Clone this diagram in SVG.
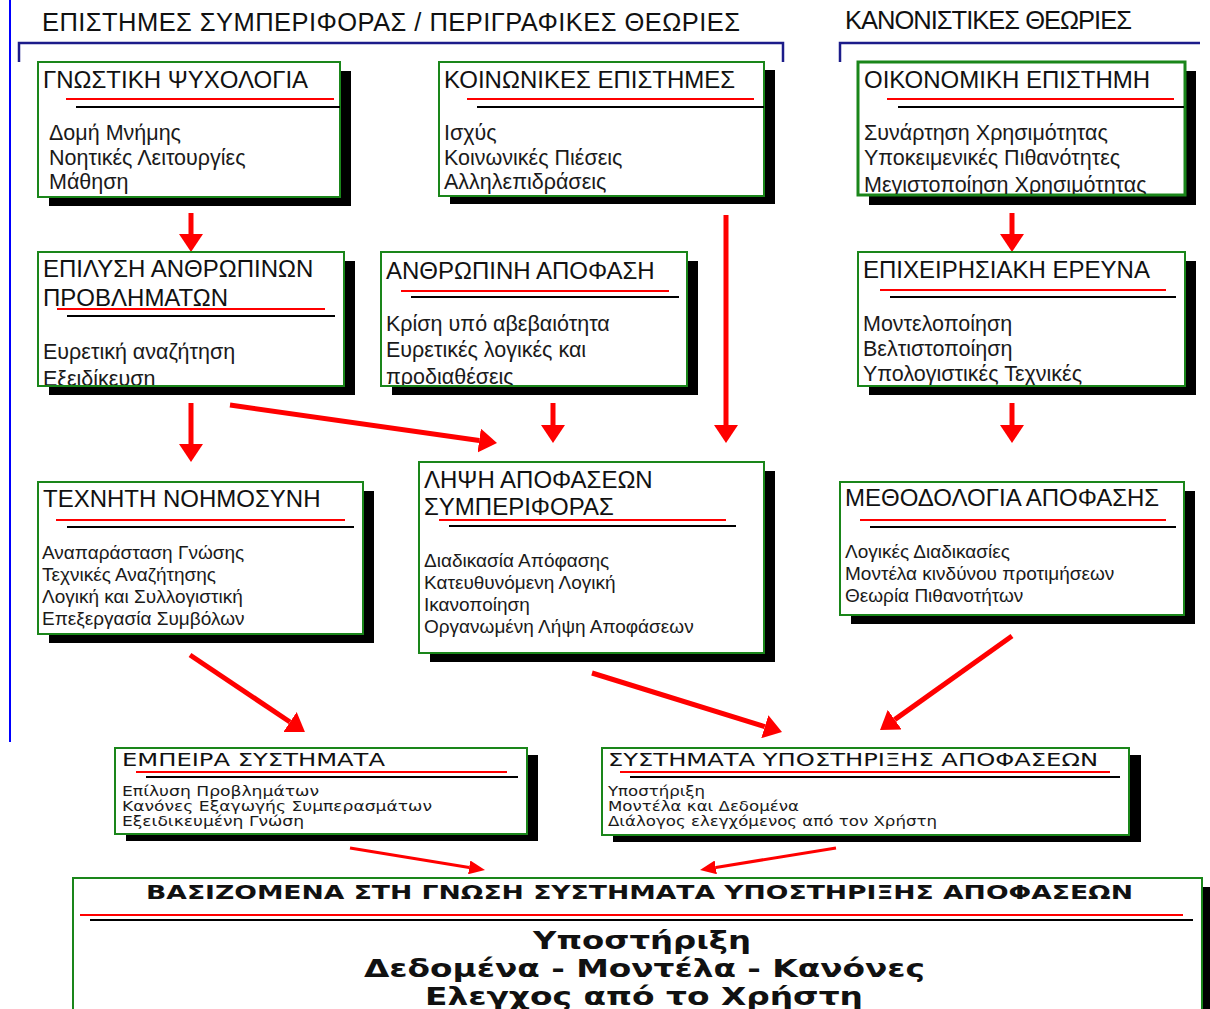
<svg xmlns="http://www.w3.org/2000/svg" width="1210" height="1009" viewBox="0 0 1210 1009">
  <defs>
    <style>
      .shadow { fill: #000; }
      .box { fill: #fff; stroke: #1a861a; stroke-width: 2; }
      .box-thick { stroke-width: 3; }
      .hdr { font-family: "Liberation Sans", Arial, sans-serif; font-size: 25.5px; fill: #111; }
      .ttl { font-family: "Liberation Sans", Arial, sans-serif; font-size: 24px; fill: #111; }
      .txt { font-family: "Liberation Sans", Arial, sans-serif; font-size: 21.5px; fill: #1a1a1a; }
      .txt-s { font-family: "Liberation Sans", Arial, sans-serif; font-size: 19px; fill: #1a1a1a; }
      .w-ttl { font-family: "DejaVu Sans", Verdana, sans-serif; font-size: 17.5px; fill: #111; }
      .w-txt { font-family: "DejaVu Sans", Verdana, sans-serif; font-size: 14px; fill: #1a1a1a; }
      .big { font-family: "DejaVu Sans", Verdana, sans-serif; font-weight: bold; fill: #111; }
      .ul-r { stroke: #ff0000; stroke-width: 2; }
      .ul-k { stroke: #000; stroke-width: 2; }
      .brk { fill: none; stroke: #1c1c8a; stroke-width: 2.5; }
      .edge { stroke: #0000ff; stroke-width: 2; }
      .arrow { fill: none; stroke: #ff0000; stroke-width: 5; marker-end: url(#head); }
      .arrow-thin { fill: none; stroke: #ff0000; stroke-width: 3; marker-end: url(#head-s); }
    </style>
    <marker id="head" markerUnits="userSpaceOnUse" viewBox="0 0 18 24" markerWidth="18" markerHeight="24" refX="0" refY="12" orient="auto">
      <path d="M0,0 L18,12 L0,24 Z" fill="#ff0000"/>
    </marker>
    <marker id="head-s" markerUnits="userSpaceOnUse" viewBox="0 0 16 14" markerWidth="16" markerHeight="14" refX="0" refY="7" orient="auto">
      <path d="M0,0 L16,7 L0,14 Z" fill="#ff0000"/>
    </marker>
    <clipPath id="clip-oik"><rect x="858" y="62" width="327" height="132"/></clipPath>
    <clipPath id="clip-epil"><rect x="38" y="252" width="306" height="133"/></clipPath>
    <clipPath id="clip-anth"><rect x="381" y="252" width="306" height="133"/></clipPath>
    <clipPath id="clip-epix"><rect x="858" y="252" width="327" height="133"/></clipPath>
  </defs>

  <rect width="1210" height="1009" fill="#fff"/>

  <!-- page frame and section headings -->
  <g id="headings">
    <line class="edge" x1="10" y1="0" x2="10" y2="742"/>
    <text class="hdr" x="42" y="31" textLength="698">ΕΠΙΣΤΗΜΕΣ ΣΥΜΠΕΡΙΦΟΡΑΣ / ΠΕΡΙΓΡΑΦΙΚΕΣ ΘΕΩΡΙΕΣ</text>
    <path class="brk" d="M19,62 V43 H783 V62"/>
    <text class="hdr" x="845" y="29" textLength="287">ΚΑΝΟΝΙΣΤΙΚΕΣ ΘΕΩΡΙΕΣ</text>
    <path class="brk" d="M840,62 V43 H1200"/>
  </g>

  <!-- connectors -->
  <g id="connectors">
    <line class="arrow" x1="191" y1="213" x2="191" y2="234"/>
    <line class="arrow" x1="1012" y1="213" x2="1012" y2="234"/>
    <line class="arrow" x1="191" y1="403" x2="191" y2="444"/>
    <line class="arrow" x1="553" y1="403" x2="553" y2="425"/>
    <line class="arrow" x1="726" y1="215" x2="726" y2="425"/>
    <line class="arrow" x1="1012" y1="403" x2="1012" y2="425"/>
    <line class="arrow" x1="230" y1="405" x2="479.2" y2="440.5"/>
    <line class="arrow" x1="190" y1="655" x2="290" y2="722"/>
    <line class="arrow" x1="592" y1="673" x2="764.8" y2="726.7"/>
    <line class="arrow" x1="1012" y1="636" x2="894.7" y2="719.6"/>
    <line class="arrow-thin" x1="350" y1="848" x2="469.2" y2="867.4"/>
    <line class="arrow-thin" x1="836" y1="848" x2="715.8" y2="867.4"/>
  </g>

  <!-- row 1 -->
  <g id="gnostiki-psychologia">
    <rect class="shadow" x="49" y="71" width="302" height="135"/>
    <rect class="box" x="38" y="62" width="302" height="135"/>
    <text class="ttl" x="43" y="88">ΓΝΩΣΤΙΚΗ ΨΥΧΟΛΟΓΙΑ</text>
    <line class="ul-r" x1="66" y1="99" x2="334" y2="99"/>
    <line class="ul-k" x1="76" y1="107" x2="340" y2="107"/>
    <text class="txt" x="49" y="140">Δομή Μνήμης</text>
    <text class="txt" x="49" y="165">Νοητικές Λειτουργίες</text>
    <text class="txt" x="49" y="189">Μάθηση</text>
  </g>

  <g id="koinonikes-epistimes">
    <rect class="shadow" x="450" y="70" width="325" height="134"/>
    <rect class="box" x="439" y="62" width="325" height="134"/>
    <text class="ttl" x="444" y="88">ΚΟΙΝΩΝΙΚΕΣ ΕΠΙΣΤΗΜΕΣ</text>
    <line class="ul-r" x1="467" y1="99" x2="754" y2="99"/>
    <line class="ul-k" x1="477" y1="107" x2="764" y2="107"/>
    <text class="txt" x="444" y="140">Ισχύς</text>
    <text class="txt" x="444" y="165">Κοινωνικές Πιέσεις</text>
    <text class="txt" x="444" y="189">Αλληλεπιδράσεις</text>
  </g>

  <g id="oikonomiki-epistimi">
    <rect class="shadow" x="869" y="71" width="327" height="134"/>
    <rect class="box box-thick" x="858" y="62" width="327" height="133"/>
    <text class="ttl" x="864" y="88">ΟΙΚΟΝΟΜΙΚΗ ΕΠΙΣΤΗΜΗ</text>
    <line class="ul-r" x1="887" y1="99" x2="1174" y2="99"/>
    <line class="ul-k" x1="898" y1="107" x2="1184" y2="107"/>
    <g clip-path="url(#clip-oik)">
      <text class="txt" x="864" y="140">Συνάρτηση Χρησιμότητας</text>
      <text class="txt" x="864" y="165">Υποκειμενικές Πιθανότητες</text>
      <text class="txt" x="864" y="192">Μεγιστοποίηση Χρησιμότητας</text>
    </g>
  </g>

  <!-- row 2 -->
  <g id="epilysi-provlimaton">
    <rect class="shadow" x="49" y="261" width="306" height="134"/>
    <rect class="box" x="38" y="252" width="306" height="134"/>
    <text class="ttl" x="43" y="277">ΕΠΙΛΥΣΗ ΑΝΘΡΩΠΙΝΩΝ</text>
    <text class="ttl" x="43" y="306">ΠΡΟΒΛΗΜΑΤΩΝ</text>
    <line class="ul-r" x1="57" y1="309" x2="325" y2="309"/>
    <line class="ul-k" x1="67" y1="316" x2="335" y2="316"/>
    <g clip-path="url(#clip-epil)">
      <text class="txt" x="43" y="359">Ευρετική αναζήτηση</text>
      <text class="txt" x="43" y="386">Εξειδίκευση</text>
    </g>
  </g>

  <g id="anthropini-apofasi">
    <rect class="shadow" x="392" y="261" width="306" height="134"/>
    <rect class="box" x="381" y="252" width="306" height="134"/>
    <text class="ttl" x="386" y="279">ΑΝΘΡΩΠΙΝΗ ΑΠΟΦΑΣΗ</text>
    <line class="ul-r" x1="401" y1="291" x2="669" y2="291"/>
    <line class="ul-k" x1="411" y1="297" x2="679" y2="297"/>
    <g clip-path="url(#clip-anth)">
      <text class="txt" x="386" y="331">Κρίση υπό αβεβαιότητα</text>
      <text class="txt" x="386" y="357">Ευρετικές λογικές και</text>
      <text class="txt" x="386" y="384">προδιαθέσεις</text>
    </g>
  </g>

  <g id="epixeirisiaki-erevna">
    <rect class="shadow" x="869" y="261" width="327" height="134"/>
    <rect class="box" x="858" y="252" width="327" height="134"/>
    <text class="ttl" x="863" y="278">ΕΠΙΧΕΙΡΗΣΙΑΚΗ ΕΡΕΥΝΑ</text>
    <line class="ul-r" x1="880" y1="290" x2="1166" y2="290"/>
    <line class="ul-k" x1="890" y1="297" x2="1176" y2="297"/>
    <g clip-path="url(#clip-epix)">
      <text class="txt" x="863" y="331">Μοντελοποίηση</text>
      <text class="txt" x="863" y="356">Βελτιστοποίηση</text>
      <text class="txt" x="863" y="381">Υπολογιστικές Τεχνικές</text>
    </g>
  </g>

  <!-- row 3 -->
  <g id="techniti-noimosyni">
    <rect class="shadow" x="49" y="491" width="325" height="152"/>
    <rect class="box" x="38" y="482" width="325" height="152"/>
    <text class="ttl" x="43" y="507">ΤΕΧΝΗΤΗ ΝΟΗΜΟΣΥΝΗ</text>
    <line class="ul-r" x1="56" y1="520" x2="345" y2="520"/>
    <line class="ul-k" x1="67" y1="527" x2="354" y2="527"/>
    <text class="txt-s" x="42" y="559">Αναπαράσταση Γνώσης</text>
    <text class="txt-s" x="42" y="581">Τεχνικές Αναζήτησης</text>
    <text class="txt-s" x="42" y="603">Λογική και Συλλογιστική</text>
    <text class="txt-s" x="42" y="625">Επεξεργασία Συμβόλων</text>
  </g>

  <g id="lipsi-apofaseon">
    <rect class="shadow" x="430" y="471" width="345" height="191"/>
    <rect class="box" x="419" y="462" width="345" height="191"/>
    <text class="ttl" x="424" y="488">ΛΗΨΗ ΑΠΟΦΑΣΕΩΝ</text>
    <text class="ttl" x="424" y="515">ΣΥΜΠΕΡΙΦΟΡΑΣ</text>
    <line class="ul-r" x1="439" y1="520" x2="726" y2="520"/>
    <line class="ul-k" x1="449" y1="526" x2="736" y2="526"/>
    <text class="txt-s" x="424" y="567">Διαδικασία Απόφασης</text>
    <text class="txt-s" x="424" y="589">Κατευθυνόμενη Λογική</text>
    <text class="txt-s" x="424" y="611">Ικανοποίηση</text>
    <text class="txt-s" x="424" y="633">Οργανωμένη Λήψη Αποφάσεων</text>
  </g>

  <g id="methodologia-apofasis">
    <rect class="shadow" x="851" y="491" width="344" height="133"/>
    <rect class="box" x="840" y="482" width="344" height="133"/>
    <text class="ttl" x="845" y="506">ΜΕΘΟΔΟΛΟΓΙΑ ΑΠΟΦΑΣΗΣ</text>
    <line class="ul-r" x1="860" y1="520" x2="1166" y2="520"/>
    <line class="ul-k" x1="870" y1="527" x2="1176" y2="527"/>
    <text class="txt-s" x="845" y="558">Λογικές Διαδικασίες</text>
    <text class="txt-s" x="845" y="580">Μοντέλα κινδύνου προτιμήσεων</text>
    <text class="txt-s" x="845" y="602">Θεωρία Πιθανοτήτων</text>
  </g>

  <!-- row 4 -->
  <g id="empeira-systimata">
    <rect class="shadow" x="126" y="755" width="412" height="86"/>
    <rect class="box" x="115" y="748" width="412" height="86"/>
    <text class="w-ttl" x="122" y="766" textLength="263" lengthAdjust="spacingAndGlyphs">ΕΜΠΕΙΡΑ ΣΥΣΤΗΜΑΤΑ</text>
    <line class="ul-r" x1="136" y1="772" x2="507" y2="772"/>
    <line class="ul-k" x1="146" y1="777" x2="518" y2="777"/>
    <text class="w-txt" x="122" y="796" textLength="197" lengthAdjust="spacingAndGlyphs">Επίλυση Προβλημάτων</text>
    <text class="w-txt" x="122" y="811" textLength="310" lengthAdjust="spacingAndGlyphs">Κανόνες Εξαγωγής Συμπερασμάτων</text>
    <text class="w-txt" x="122" y="826" textLength="182" lengthAdjust="spacingAndGlyphs">Εξειδικευμένη Γνώση</text>
  </g>

  <g id="systimata-ypostirixis">
    <rect class="shadow" x="613" y="755" width="528" height="87"/>
    <rect class="box" x="602" y="748" width="527" height="87"/>
    <text class="w-ttl" x="608" y="766" textLength="490" lengthAdjust="spacingAndGlyphs">ΣΥΣΤΗΜΑΤΑ ΥΠΟΣΤΗΡΙΞΗΣ ΑΠΟΦΑΣΕΩΝ</text>
    <line class="ul-r" x1="620" y1="772" x2="1110" y2="772"/>
    <line class="ul-k" x1="630" y1="777" x2="1120" y2="777"/>
    <text class="w-txt" x="608" y="796" textLength="97" lengthAdjust="spacingAndGlyphs">Υποστήριξη</text>
    <text class="w-txt" x="608" y="811" textLength="191" lengthAdjust="spacingAndGlyphs">Μοντέλα και Δεδομένα</text>
    <text class="w-txt" x="608" y="826" textLength="329" lengthAdjust="spacingAndGlyphs">Διάλογος ελεγχόμενος από τον Χρήστη</text>
  </g>

  <!-- row 5 -->
  <g id="vasizomena-systimata">
    <rect class="shadow" x="84" y="887" width="1130" height="150"/>
    <rect class="box" x="73" y="878" width="1129" height="150"/>
    <text class="big" x="146" y="899" font-size="20" textLength="987" lengthAdjust="spacingAndGlyphs">ΒΑΣΙΖΟΜΕΝΑ ΣΤΗ ΓΝΩΣΗ ΣΥΣΤΗΜΑΤΑ ΥΠΟΣΤΗΡΙΞΗΣ ΑΠΟΦΑΣΕΩΝ</text>
    <line class="ul-r" x1="80" y1="915" x2="1183" y2="915"/>
    <line class="ul-k" x1="90" y1="920" x2="1193" y2="920"/>
    <text class="big" x="533" y="949" font-size="24" textLength="218" lengthAdjust="spacingAndGlyphs">Υποστήριξη</text>
    <text class="big" x="364" y="977" font-size="24" textLength="561" lengthAdjust="spacingAndGlyphs">Δεδομένα - Μοντέλα - Κανόνες</text>
    <text class="big" x="425" y="1005" font-size="24" textLength="438" lengthAdjust="spacingAndGlyphs">Ελεγχος από το Χρήστη</text>
  </g>
</svg>
